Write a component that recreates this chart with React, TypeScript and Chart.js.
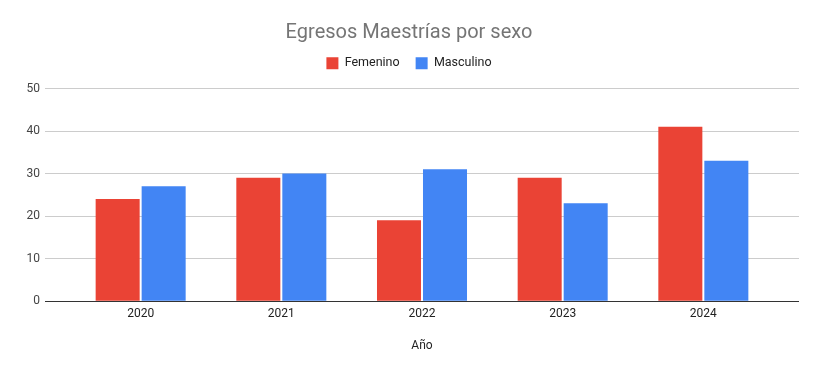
import React, { useEffect, useRef } from "react";
import { Chart, registerables } from "chart.js";

Chart.register(...registerables);

const years = ["2020", "2021", "2022", "2023", "2024"];
const femenino = [24, 29, 19, 29, 41];
const masculino = [27, 30, 31, 23, 33];
const yTicks = [0, 10, 20, 30, 40, 50];

export default function App() {
  const ref = useRef<HTMLCanvasElement>(null);
  useEffect(() => {
    document.body.style.margin = "0";
    const ctx = ref.current!;
    const font = "Roboto";
    const legendMargin = {
      id: "legendMargin",
      beforeInit(chart: any) {
        const orig = chart.legend.fit;
        chart.legend.fit = function () {
          orig.bind(chart.legend)();
          this.height += 9;
        };
      },
    };
    const chart = new Chart(ctx, {
      type: "bar",
      data: {
        datasets: [
          {
            label: "Femenino",
            data: femenino.map((v, i) => ({ x: i, y: v })),
            backgroundColor: "#ea4335",
            borderWidth: 0,
            categoryPercentage: 0.654,
            barPercentage: 0.957,
          },
          {
            label: "Masculino",
            data: masculino.map((v, i) => ({ x: i, y: v })),
            backgroundColor: "#4285f4",
            borderWidth: 0,
            categoryPercentage: 0.654,
            barPercentage: 0.957,
          },
        ],
      },
      plugins: [legendMargin],
      options: {
        animation: false,
        responsive: false,
        maintainAspectRatio: false,
        layout: { padding: { left: 0, right: 0, top: 0, bottom: 18 } },
        plugins: {
          title: {
            display: true,
            text: "Egresos Maestrías por sexo",
            color: "#757575",
            font: { family: font, size: 20, weight: "normal" },
            padding: { top: 21, bottom: -4 },
          },
          legend: {
            display: true,
            labels: {
              boxWidth: 12,
              boxHeight: 12,
              color: "#222222",
              padding: 16,
              font: { family: font, size: 12.5 },
            },
          },
          tooltip: { enabled: false },
        },
        scales: {
          x: {
            type: "linear",
            min: -0.68,
            max: 4.68,
            offset: false,
            grid: { display: false, drawTicks: false, offset: false },
            border: { display: false },
            afterBuildTicks: (scale: any) => {
              scale.ticks = years.map((_, i) => ({ value: i }));
            },
            ticks: {
              color: "#222222",
              font: { family: font, size: 12 },
              padding: 6,
              maxRotation: 0,
              autoSkip: false,
              callback: (v: any) => years[v] ?? "",
            },
            title: {
              display: true,
              text: "Año",
              color: "#222222",
              font: { family: font, size: 12 },
              padding: { top: 11, bottom: 0 },
            },
          },
          y: {
            type: "linear",
            min: 0,
            max: 50,
            afterBuildTicks: (scale: any) => {
              scale.ticks = yTicks.map((v) => ({ value: v }));
            },
            afterFit: (scale: any) => {
              scale.width = 45;
            },
            grid: {
              color: (c: any) => (c.tick && c.tick.value === 0 ? "#333333" : "#cccccc"),
              drawTicks: false,
            },
            border: { display: false },
            ticks: {
              color: "#444444",
              font: { family: font, size: 12 },
              padding: 5,
            },
          },
          y2: {
            type: "linear",
            position: "right",
            display: true,
            min: 0,
            max: 50,
            grid: { display: false, drawTicks: false },
            border: { display: false },
            ticks: { display: false },
            afterFit: (scale: any) => {
              scale.width = 19;
            },
          },
        },
      } as any,
    });
    return () => chart.destroy();
  }, []);
  return (
    <div style={{ width: 818, height: 371 }}>
      <canvas ref={ref} width={818} height={371} style={{ display: "block" }} />
    </div>
  );
}
